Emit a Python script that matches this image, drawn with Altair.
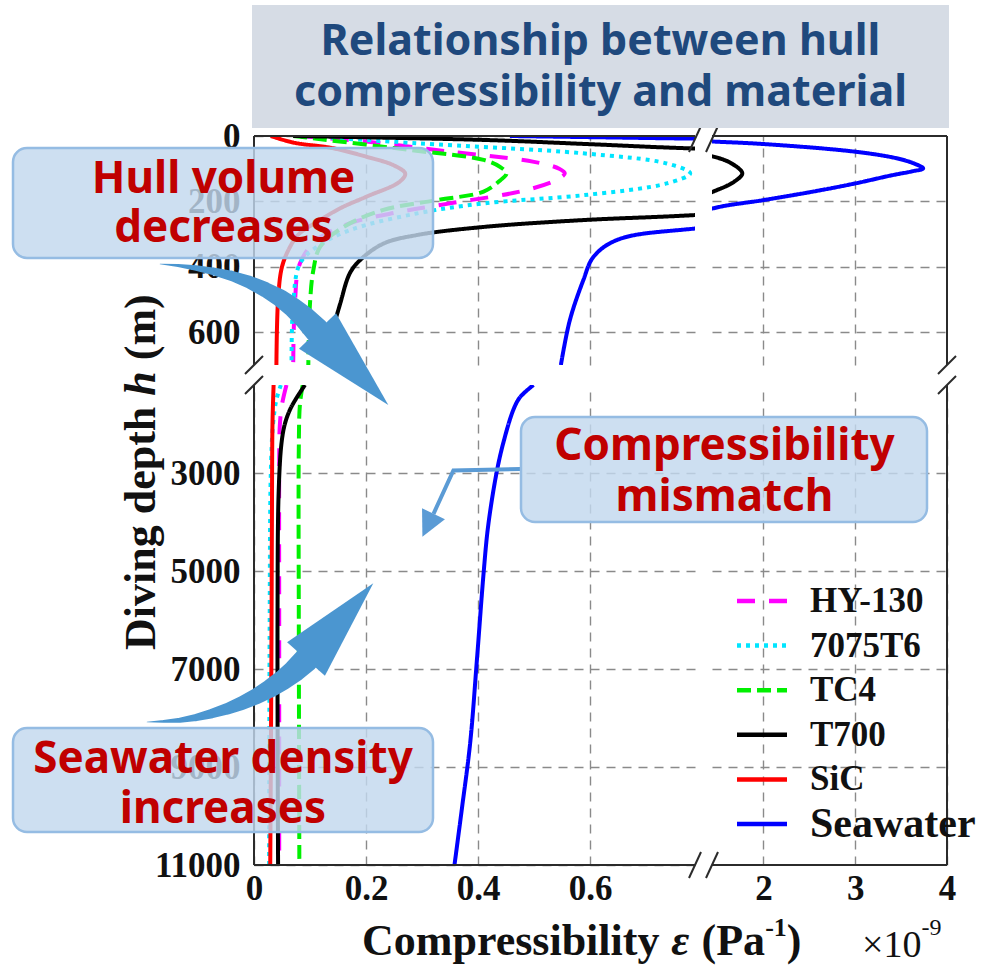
import math
import altair as alt
import pandas as pd

# ---------------- series ----------------
MATERIALS = ["HY-130", "7075T6", "TC4", "T700", "SiC", "Seawater"]
LINE_COLORS = ["#FF00FF", "#00E5FF", "#00F000", "#000000", "#FF0000", "#0000FF"]
LINE_DASHES = [[18, 14], [4, 5], [14, 6], [1, 0], [1, 0], [1, 0]]

# 0-700 m layer: (depth m, compressibility in 1e-9 Pa^-1)
HY130_SHALLOW = [(0, 0.08), (17, 0.20), (48, 0.35), (79, 0.50), (100, 0.545), (114, 0.555),
                 (130, 0.545), (165, 0.487), (206, 0.35), (232, 0.26), (267, 0.171),
                 (318, 0.112), (390, 0.082), (512, 0.073), (700, 0.07)]
AL7075_SHALLOW = [(0, 0.09), (22, 0.29), (53, 0.588), (84, 0.737), (114, 0.779), (145, 0.737),
                  (181, 0.588), (206, 0.41), (237, 0.29), (288, 0.171), (339, 0.112),
                  (390, 0.082), (512, 0.07), (700, 0.067)]
TC4_SHALLOW = [(0, 0.07), (43, 0.279), (73, 0.41), (95, 0.44), (114, 0.451), (135, 0.44),
               (170, 0.41), (196, 0.326), (226, 0.231), (278, 0.16), (339, 0.118),
               (410, 0.106), (512, 0.10), (700, 0.097)]
T700_SHALLOW = [(0, 0.07), (12, 0.41), (25, 0.60), (38, 0.784), (63, 1.454), (85, 1.66),
                (114, 1.77), (140, 1.68), (170, 1.454), (242, 0.784), (257, 0.588),
                (278, 0.41), (303, 0.29), (329, 0.231), (380, 0.189), (420, 0.171),
                (512, 0.154), (600, 0.14), (700, 0.13)]
SIC_SHALLOW = [(0, 0.03), (20, 0.07), (37, 0.14), (63, 0.20), (90, 0.25), (115, 0.27),
               (140, 0.26), (186, 0.20), (220, 0.155), (257, 0.118), (300, 0.08),
               (340, 0.064), (400, 0.05), (500, 0.043), (700, 0.04)]
SEAWATER_SHALLOW = [(0, 0.457), (4, 0.62), (8, 0.787), (17, 1.454), (24.5, 2.0), (48, 3.0),
                    (68, 3.45), (85, 3.65), (99, 3.74), (108, 3.62), (120, 3.4), (145, 3.0),
                    (170, 2.54), (196, 2.0), (221, 1.454), (283, 0.787), (318, 0.648),
                    (370, 0.606), (441, 0.588), (563, 0.564), (700, 0.548)]

# 1200-11000 m layer
HY130_DEEP = [(1200, 0.058), (1600, 0.050), (2050, 0.046), (3000, 0.045), (6000, 0.045),
              (11000, 0.045)]
AL7075_DEEP = [(1200, 0.048), (1500, 0.040), (2000, 0.034), (3000, 0.030), (6000, 0.028),
               (11000, 0.027)]
TC4_DEEP = [(1200, 0.087), (1600, 0.082), (2500, 0.080), (6000, 0.080), (11000, 0.081)]
T700_DEEP = [(1200, 0.091), (1500, 0.074), (1710, 0.064), (2000, 0.055), (2400, 0.049),
             (3400, 0.044), (6000, 0.042), (11000, 0.043)]
SIC_DEEP = [(1200, 0.035), (2000, 0.033), (4000, 0.032), (7000, 0.031), (11000, 0.029)]
SEAWATER_DEEP = [(1200, 0.499), (1450, 0.475), (1710, 0.463), (2390, 0.445), (3000, 0.433),
                 (4090, 0.418), (5040, 0.41), (6820, 0.398), (8510, 0.386), (9870, 0.371),
                 (11000, 0.358)]

X_LEFT = [0.0, 0.7875]
X_RIGHT = [1.44, 4.0]
Y_TOP = [0, 700]
Y_BOTTOM = [1200, 11000]
X_TICKS_LEFT = [0, 0.2, 0.4, 0.6]
X_TICKS_RIGHT = [2, 3, 4]
Y_TICKS_TOP = [0, 200, 400, 600]
Y_TICKS_BOTTOM = [3000, 5000, 7000, 9000, 11000]


def long_table(series):
    rows = []
    for name, pts in series.items():
        for d, e in pts:
            rows.append({"material": name, "depth": d, "eps": e})
    return pd.DataFrame(rows)


shallow = long_table({"HY-130": HY130_SHALLOW, "7075T6": AL7075_SHALLOW, "TC4": TC4_SHALLOW,
                      "T700": T700_SHALLOW, "SiC": SIC_SHALLOW, "Seawater": SEAWATER_SHALLOW})
deep = long_table({"HY-130": HY130_DEEP, "7075T6": AL7075_DEEP, "TC4": TC4_DEEP,
                   "T700": T700_DEEP, "SiC": SIC_DEEP, "Seawater": SEAWATER_DEEP})

# ---------------- layout ----------------
SERIF = "Liberation Serif"
SANS = "Noto Sans"
LEFT_W, RIGHT_W, TOP_H, BOTTOM_H = 441, 235, 229, 480
GAP_X, GAP_Y = 17, 20
PX0, PY0 = 254, 136                 # page corner of the plotting frame
OX = PX0 + LEFT_W + GAP_X           # page origin of the lower-right panel
OY = PY0 + TOP_H + GAP_Y
RIGHT_EDGE = OX + RIGHT_W
BOTTOM_EDGE = OY + BOTTOM_H
MID_X = PX0 + LEFT_W
MID_Y = PY0 + TOP_H

ONE = alt.InlineData(values=[{"k": 0}])
color_scale = alt.Scale(domain=MATERIALS, range=LINE_COLORS)
dash_scale = alt.Scale(domain=MATERIALS, range=LINE_DASHES)


def lx(px):
    return px - OX


def ly(py):
    return py - OY


def make_axis(values, labels, fmt="d", pad=0):
    kw = dict(values=values, title=None, domain=False, ticks=False, tickSize=0,
              grid=True, labels=labels)
    if labels:
        kw.update(format=fmt, labelPadding=pad)
    return alt.Axis(**kw)


def curves(df, xdom, ydom, xaxis, yaxis):
    return alt.Chart(df).mark_line(clip=True, strokeWidth=4, interpolate="catmull-rom").encode(
        x=alt.X("eps:Q", scale=alt.Scale(domain=xdom, nice=False, zero=False), axis=xaxis),
        y=alt.Y("depth:Q", scale=alt.Scale(domain=ydom, nice=False, zero=False, reverse=True),
                axis=yaxis),
        color=alt.Color("material:N", scale=color_scale, legend=None),
        strokeDash=alt.StrokeDash("material:N", scale=dash_scale, legend=None),
        order="depth:Q",
    )


def text_layer(px, py, s, size, font=SERIF, weight="bold", style="normal",
               color="#111111", align="left", baseline="alphabetic", angle=0):
    return alt.Chart(ONE).mark_text(
        font=font, fontSize=size, fontWeight=weight, fontStyle=style,
        color=color, align=align, baseline=baseline, angle=angle,
    ).encode(x=alt.value(lx(px)), y=alt.value(ly(py)), text=alt.value(s))


def rect_layer(x1, y1, x2, y2, fill, radius=0, stroke=None, fill_opacity=1.0):
    props = dict(fill=fill, fillOpacity=fill_opacity, cornerRadius=radius)
    if stroke:
        props.update(stroke=stroke, strokeWidth=2.5)
    return alt.Chart(ONE).mark_rect(**props).encode(
        x=alt.value(lx(x1)), x2=alt.value(lx(x2)), y=alt.value(ly(y1)), y2=alt.value(ly(y2)))


def head_layer(base, tip, color, half=0.5):
    bx, by = base
    tx, ty = tip
    length = math.hypot(tx - bx, ty - by)
    ang = math.degrees(math.atan2(tx - bx, -(ty - by))) % 360
    return alt.Chart(ONE).mark_point(
        shape=f"M0,-1L{half},1L-{half},1Z", filled=True, opacity=1, strokeWidth=0,
        color=color, size=length ** 2, angle=ang,
    ).encode(x=alt.value(lx((bx + tx) / 2)), y=alt.value(ly((by + ty) / 2)))


# ---------------- panels ----------------
top_left = alt.layer(curves(
    shallow, X_LEFT, Y_TOP,
    make_axis([0.2, 0.4, 0.6], False),
    make_axis(Y_TICKS_TOP, True, "d", 14),
)).properties(width=LEFT_W, height=TOP_H)

top_right = alt.layer(curves(
    shallow, X_RIGHT, Y_TOP,
    make_axis([2, 3], False),
    make_axis([200, 400, 600], False),
)).properties(width=RIGHT_W, height=TOP_H)

bottom_left = alt.layer(curves(
    deep, X_LEFT, Y_BOTTOM,
    make_axis(X_TICKS_LEFT, True, ".1~f", 6),
    make_axis(Y_TICKS_BOTTOM, True, "d", 14),
)).properties(width=LEFT_W, height=BOTTOM_H)

# frame with axis-break marks
segments = [
    (PX0, PY0, MID_X, PY0), (OX, PY0, RIGHT_EDGE, PY0),
    (PX0, BOTTOM_EDGE, MID_X, BOTTOM_EDGE), (OX, BOTTOM_EDGE, RIGHT_EDGE, BOTTOM_EDGE),
    (PX0, PY0, PX0, MID_Y), (PX0, OY, PX0, BOTTOM_EDGE),
    (RIGHT_EDGE, PY0, RIGHT_EDGE, MID_Y), (RIGHT_EDGE, OY, RIGHT_EDGE, BOTTOM_EDGE),
]
for xb in (MID_X, OX):
    for yb in (PY0 + 3, BOTTOM_EDGE):
        segments.append((xb - 6, yb + 13, xb + 6, yb - 13))
for yb in (MID_Y, OY):
    for xb in (PX0, RIGHT_EDGE):
        segments.append((xb - 9, yb + 9, xb + 9, yb - 9))
seg_df = pd.DataFrame([{"x1": lx(a), "y1": ly(b), "x2": lx(c), "y2": ly(d)}
                       for a, b, c, d in segments])
frame = alt.Chart(seg_df).mark_rule(color="#2b2b2b", strokeWidth=2).encode(
    x=alt.X("x1:Q", scale=None, axis=None), x2="x2:Q",
    y=alt.Y("y1:Q", scale=None, axis=None), y2="y2:Q",
)

# legend
legend_df = pd.DataFrame({"material": MATERIALS, "rank": list(range(len(MATERIALS)))})
legend_base = alt.Chart(legend_df).transform_calculate(
    ly=f"{ly(601)} + datum.rank * 44.6"
)
legend_lines = legend_base.mark_rule(strokeWidth=4.5).encode(
    x=alt.value(lx(737)), x2=alt.value(lx(787)),
    y=alt.Y("ly:Q", scale=None, axis=None),
    color=alt.Color("material:N", scale=color_scale, legend=None),
    strokeDash=alt.StrokeDash("material:N", scale=dash_scale, legend=None),
)
legend_text = legend_base.mark_text(font=SERIF, fontWeight="bold", align="left",
                                    baseline="middle", color="#111111").encode(
    x=alt.value(lx(810)),
    y=alt.Y("ly:Q", scale=None, axis=None),
    text="material:N",
    size=alt.condition("datum.material === 'Seawater'", alt.value(42), alt.value(35)),
)

# curved block arrows: centre line (page px) with growing width
ARROW_BLUE = "#4B96D0"
ARROW_PATHS = {
    "a": [(160, 264), (178, 265.5), (196, 268), (214, 271.5), (232, 276), (249, 282),
          (265, 289.5), (280, 298), (293, 307.5), (305, 318), (316.5, 330)],
    "b": [(147, 722), (163.5, 721.3), (179.8, 720.3), (196, 717.5), (211.8, 713.6),
          (227.2, 708.8), (242.1, 703), (256.4, 696.2), (270, 688.5), (282.8, 680),
          (294.8, 670.6), (306, 660)],
}
arrow_rows = []
for name, pts in ARROW_PATHS.items():
    n = len(pts) - 1
    for i, (px, py) in enumerate(pts):
        arrow_rows.append({"arrow": name, "i": i, "px": lx(px), "py": ly(py),
                           "w": 0.5 + 24.5 * i / n})
arrow_df = pd.DataFrame(arrow_rows)
arrow_bodies = alt.Chart(arrow_df).mark_trail(color=ARROW_BLUE).encode(
    x=alt.X("px:Q", scale=None, axis=None),
    y=alt.Y("py:Q", scale=None, axis=None),
    size=alt.Size("w:Q", scale=None, legend=None),
    detail="arrow:N",
    order="i:Q",
)

pointer_df = pd.DataFrame({"i": [0, 1, 2], "px": [lx(520.7), lx(453.4), lx(433.5)],
                           "py": [ly(469), ly(470.5), ly(513.8)]})
pointer = alt.Chart(pointer_df).mark_line(color="#5B9BD5", strokeWidth=4).encode(
    x=alt.X("px:Q", scale=None, axis=None),
    y=alt.Y("py:Q", scale=None, axis=None),
    order="i:Q",
)

RED = "#C00000"
CALLOUT_FILL = "#C2D8EE"
CALLOUT_EDGE = "#95BCE3"
F = 44  # axis title size

overlay = [
    rect_layer(0, 0, 982, 972, "white", fill_opacity=0),
    frame,
    legend_lines, legend_text,
    # title
    rect_layer(252, 5, 949, 128, "#D6DCE5"),
    text_layer(600.5, 55, "Relationship between hull", 43, font=SANS, color="#1F497D",
               align="center"),
    text_layer(600.5, 106, "compressibility and material", 43, font=SANS, color="#1F497D",
               align="center"),
    # arrows
    arrow_bodies,
    head_layer((317.5, 331), (388.3, 405), ARROW_BLUE),
    head_layer((306, 659), (373.3, 583.3), ARROW_BLUE),
    pointer,
    head_layer((433.5, 513.8), (422.4, 536.7), "#5B9BD5", half=1.0),
    # callouts
    rect_layer(13, 148, 433, 258, CALLOUT_FILL, 14, CALLOUT_EDGE, 0.82),
    text_layer(223.5, 193, "Hull volume", 44, font=SANS, color=RED, align="center"),
    text_layer(223.5, 242, "decreases", 44, font=SANS, color=RED, align="center"),
    rect_layer(521, 417, 927, 522, CALLOUT_FILL, 14, CALLOUT_EDGE, 0.82),
    text_layer(724.5, 460, "Compressibility", 44, font=SANS, color=RED, align="center"),
    text_layer(724.5, 511, "mismatch", 44, font=SANS, color=RED, align="center"),
    rect_layer(13, 728, 433, 832, CALLOUT_FILL, 14, CALLOUT_EDGE, 0.82),
    text_layer(223, 773, "Seawater density", 44, font=SANS, color=RED, align="center"),
    text_layer(223, 823, "increases", 44, font=SANS, color=RED, align="center"),
    # x title: Compressibility ε (Pa^-1)
    text_layer(362, 955, "Compressibility", F),
    text_layer(362 + 7.028 * F, 955, "ε", F, style="italic"),
    text_layer(362 + 7.718 * F, 955, "(Pa", F),
    text_layer(362 + 9.162 * F, 936, "-1", 26),
    text_layer(362 + 9.162 * F + 0.833 * 26, 955, ")", F),
    # exponent note
    text_layer(862, 957, "×10", 38, weight="normal"),
    text_layer(862 + 1.564 * 38, 935, "-9", 24, weight="normal"),
    # y title: Diving depth h (m)
    text_layer(155, 650, "Diving depth", F, angle=270),
    text_layer(155, 650 - 5.779 * F, "h", F, style="italic", angle=270),
    text_layer(155, 650 - 6.585 * F, "(m)", F, angle=270),
]

bottom_right = alt.layer(
    curves(deep, X_RIGHT, Y_BOTTOM,
           make_axis(X_TICKS_RIGHT, True, "d", 6),
           make_axis([3000, 5000, 7000, 9000], False)),
    *overlay,
).properties(width=RIGHT_W, height=BOTTOM_H)

chart = alt.concat(
    top_left, top_right, bottom_left, bottom_right,
    columns=2,
    spacing={"row": GAP_Y, "column": GAP_X},
    bounds="flush",
    align="each",
).properties(
    padding=0, background="white",
).configure_view(
    stroke=None,
).configure_axis(
    labelFont=SERIF, labelFontSize=35, labelFontWeight="bold", labelColor="#111111",
    gridColor="#8a8a8a", gridDash=[9, 7], gridWidth=1.4, gridOpacity=1,
    labelFlush=False, labelOverlap=False,
)

chart.save("out.html", embed_options={"renderer": "svg", "actions": False})
